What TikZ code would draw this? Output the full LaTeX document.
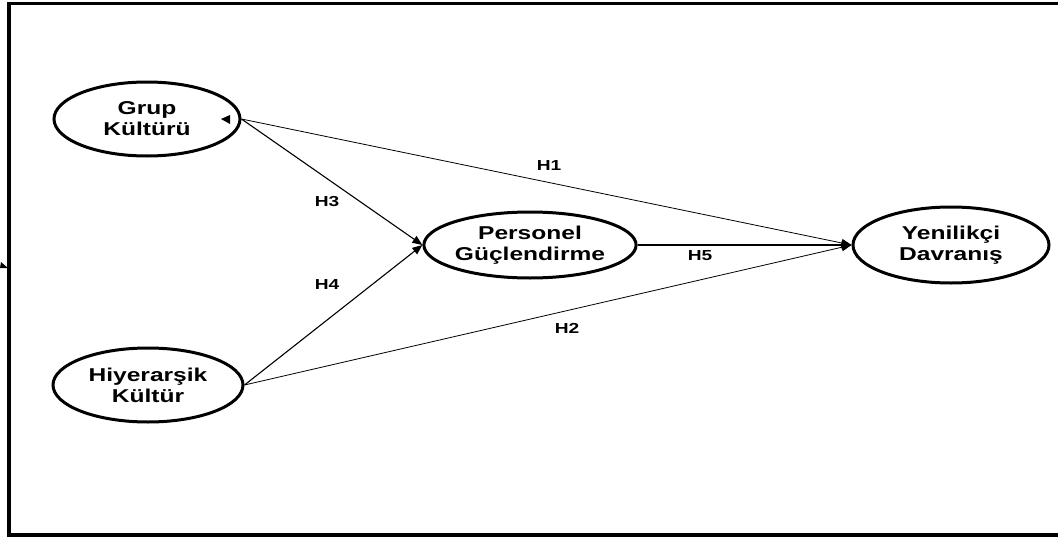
\documentclass[tikz,border=0pt]{standalone}
\usepackage{fontspec}
\newfontfamily\diafont{Liberation Sans}[FakeStretch=1.32]
\usetikzlibrary{shapes.geometric,arrows.meta}

\begin{document}
\begin{tikzpicture}[x=1pt,y=-1pt]
\tikzstyle{every node}+=[inner sep=0pt]
\tikzstyle{construct}=[draw,ellipse,line width=3pt,align=center,
  font=\diafont\bfseries\fontsize{18.6}{21}\selectfont]
\tikzstyle{hyp}=[font=\diafont\bfseries\fontsize{14.5}{16}\selectfont]
\tikzstyle{path}=[line width=0.8pt,-{Triangle[length=10pt,width=8pt]}]
\useasboundingbox (0,0) rectangle (1058,538);
\draw [line width=3.5pt] (1070,3.5) -- (9,3.5) -- (9,535) -- (1070,535);
\node [construct,minimum width=186,minimum height=74] (grup) at (147,119) {Grup\\Kültürü};
\node [construct,minimum width=190,minimum height=74] (hiyer) at (148,385) {Hiyerarşik\\Kültür};
\node [construct,minimum width=206,minimum height=66] (pers) at (530,245) {Personel\\Güçlendirme};
\node [construct,minimum width=196,minimum height=76] (yeni) at (951,245) {Yenilikçi\\Davranış};
\draw [path] (grup.east) -- (yeni.west);
\draw [path,line width=1.1pt] (grup.east) -- (pers.west);
\draw [path,line width=1.1pt] (hiyer.east) -- (pers.west);
\draw [path] (hiyer.east) -- (yeni.west);
\draw [path,line width=1.1pt] (pers.east) -- (yeni.west);
\node [hyp] (h1) at (549,166) {H1};
\node [hyp] (h3) at (327,202) {H3};
\node [hyp] (h4) at (327,285) {H4};
\node [hyp] (h5) at (700,256) {H5};
\node [hyp] (h2) at (567,328) {H2};
\fill (221,119) -- (230,115) -- (230,124) -- cycle;
\fill (1,262) -- (8,268) -- (0,268) -- cycle;
\end{tikzpicture}
\end{document}
